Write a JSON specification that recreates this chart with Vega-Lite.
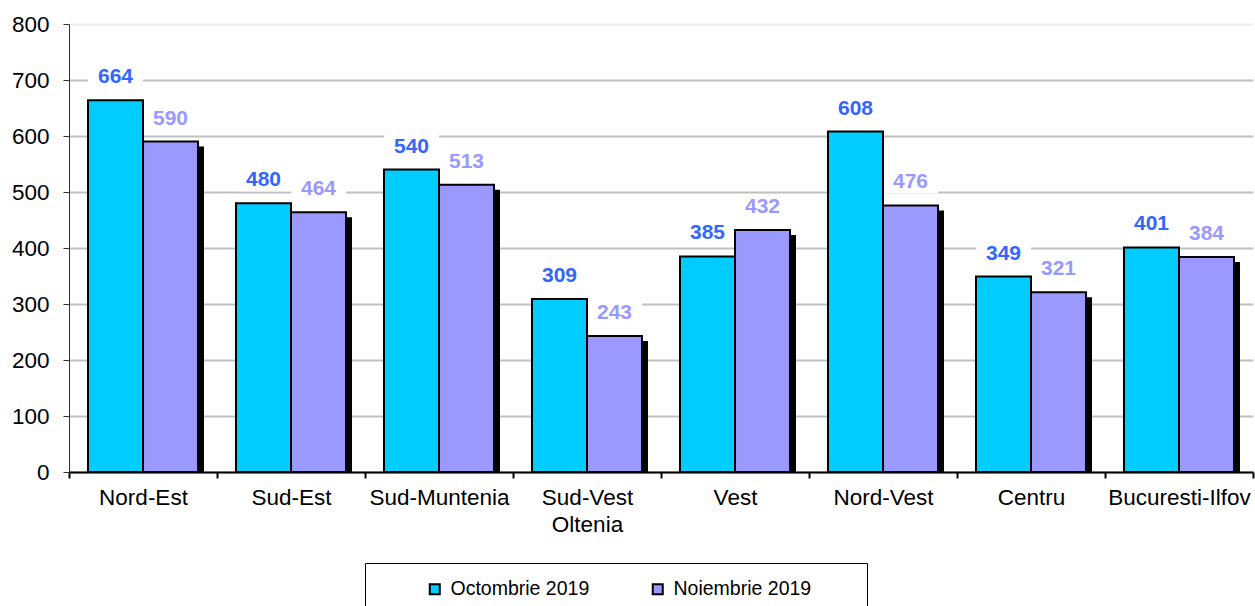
{
  "$schema": "https://vega.github.io/schema/vega-lite/v6.json",
  "width": 1184,
  "height": 448,
  "autosize": {"type": "none"},
  "padding": {"left": 69, "top": 24, "right": 2, "bottom": 134},
  "background": "white",
  "config": {"view": {"stroke": null}, "font": "Liberation Sans, Arial, sans-serif"},
  "data": {"values": [
    {"region": "Nord-Est", "series": "Octombrie 2019", "value": 664},
    {"region": "Nord-Est", "series": "Noiembrie 2019", "value": 590},
    {"region": "Sud-Est", "series": "Octombrie 2019", "value": 480},
    {"region": "Sud-Est", "series": "Noiembrie 2019", "value": 464},
    {"region": "Sud-Muntenia", "series": "Octombrie 2019", "value": 540},
    {"region": "Sud-Muntenia", "series": "Noiembrie 2019", "value": 513},
    {"region": "Sud-Vest Oltenia", "series": "Octombrie 2019", "value": 309},
    {"region": "Sud-Vest Oltenia", "series": "Noiembrie 2019", "value": 243},
    {"region": "Vest", "series": "Octombrie 2019", "value": 385},
    {"region": "Vest", "series": "Noiembrie 2019", "value": 432},
    {"region": "Nord-Vest", "series": "Octombrie 2019", "value": 608},
    {"region": "Nord-Vest", "series": "Noiembrie 2019", "value": 476},
    {"region": "Centru", "series": "Octombrie 2019", "value": 349},
    {"region": "Centru", "series": "Noiembrie 2019", "value": 321},
    {"region": "Bucuresti-Ilfov", "series": "Octombrie 2019", "value": 401},
    {"region": "Bucuresti-Ilfov", "series": "Noiembrie 2019", "value": 384}
  ]},
  "encoding": {
    "x": {
      "field": "region", "type": "nominal", "sort": null,
      "scale": {"paddingInner": 0, "paddingOuter": 0},
      "axis": {
        "title": null, "labelAngle": 0, "grid": false,
        "domainColor": "black", "domainWidth": 2,
        "tickColor": "black", "tickWidth": 2, "tickSize": 6, "tickBand": "extent",
        "labelFontSize": 22.5, "labelColor": "black", "labelPadding": 8, "labelLineHeight": 27,
        "labelFont": "Liberation Sans, Arial, sans-serif",
        "labelExpr": "datum.value == 'Sud-Vest Oltenia' ? ['Sud-Vest', 'Oltenia'] : datum.value"
      }
    },
    "y": {
      "field": "value", "type": "quantitative",
      "scale": {"domain": [0, 800], "nice": false},
      "axis": {
        "title": null, "values": [0, 100, 200, 300, 400, 500, 600, 700, 800],
        "grid": true,
        "gridColor": {"condition": {"test": "datum.value === 800", "value": "#ececec"}, "value": "#c0c0c0"},
        "gridWidth": 2,
        "domainColor": "#333333", "domainWidth": 1,
        "tickColor": "#333333", "tickWidth": 1, "tickSize": 6,
        "labelFontSize": 22.5, "labelColor": "black", "labelPadding": 14,
        "labelFont": "Liberation Sans, Arial, sans-serif"
      }
    }
  },
  "layer": [
    {
      "mark": {"type": "bar", "fill": "white", "yOffset": -36, "y2Offset": -12},
      "encoding": {
        "xOffset": {"field": "series", "type": "nominal", "sort": null, "scale": {"paddingInner": 0, "paddingOuter": 0.345}},
        "y2": {"field": "value"}
      }
    },
    {
      "transform": [{"filter": "datum.series == 'Noiembrie 2019'"}],
      "mark": {"type": "bar", "fill": "black", "width": {"band": 0.3716}, "xOffset": 33.5, "yOffset": 5, "y2Offset": 0},
      "encoding": {"y2": {"datum": 0}}
    },
    {
      "mark": {"type": "bar", "stroke": "black", "strokeWidth": 2},
      "encoding": {
        "xOffset": {"field": "series", "type": "nominal", "sort": null, "scale": {"paddingInner": 0, "paddingOuter": 0.345}},
        "fill": {
          "field": "series", "type": "nominal", "sort": null,
          "scale": {"domain": ["Octombrie 2019", "Noiembrie 2019"], "range": ["#00CCFF", "#9999FF"]},
          "legend": {
            "title": "\u00a0", "titleOrient": "right", "titlePadding": 40, "titleFontSize": 19,
            "orient": "none", "legendX": 296, "legendY": 539, "direction": "horizontal",
            "strokeColor": "black", "fillColor": "white", "padding": 16,
            "symbolType": "square", "symbolSize": 100, "symbolStrokeColor": "black", "symbolStrokeWidth": 2,
            "symbolOffset": 44,
            "labelFontSize": 19.5, "labelColor": "black", "labelOffset": 6, "columnPadding": 14,
            "labelFont": "Liberation Sans, Arial, sans-serif"
          }
        }
      }
    },
    {
      "mark": {"type": "text", "fontSize": 21, "fontWeight": "bold", "baseline": "middle", "dy": -23},
      "encoding": {
        "xOffset": {"field": "series", "type": "nominal", "sort": null, "scale": {"paddingInner": 0, "paddingOuter": 0.345}},
        "text": {"field": "value"},
        "color": {
          "field": "series", "type": "nominal", "sort": null,
          "scale": {"domain": ["Octombrie 2019", "Noiembrie 2019"], "range": ["#3366FF", "#9999FF"]},
          "legend": null
        }
      }
    }
  ]
}
